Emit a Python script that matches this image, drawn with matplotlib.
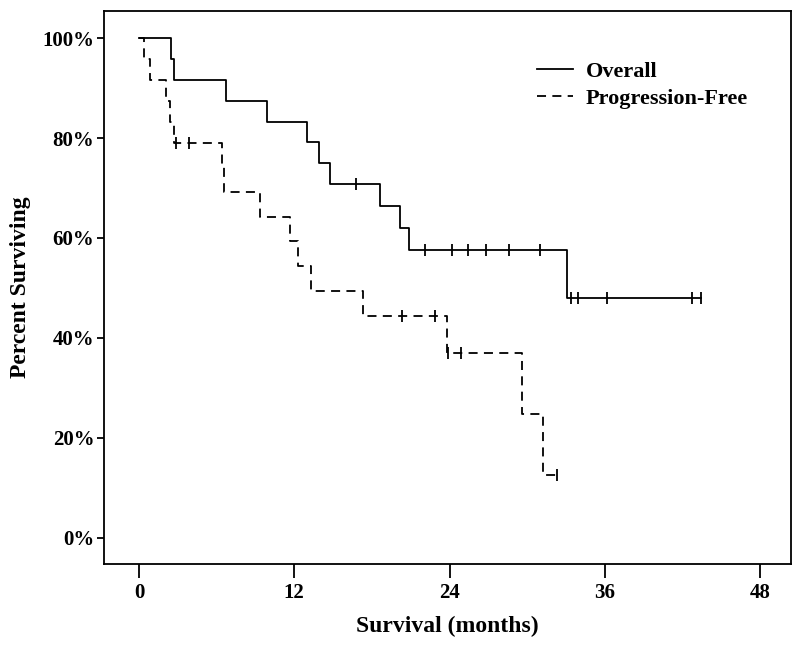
import matplotlib
matplotlib.use("Agg")
import matplotlib.pyplot as plt
import numpy as np

plt.rcParams['font.family'] = ['Liberation Serif', 'DejaVu Serif']
plt.rcParams['font.weight'] = 'bold'

# Kaplan-Meier steps (months, percent surviving)
os_times = [0, 2.45, 2.7, 6.7, 9.9, 13.0, 13.9, 14.8, 18.6, 20.2, 20.9, 33.1]
os_surv = [100, 95.8, 91.7, 87.5, 83.3, 79.2, 75.0, 70.8, 66.4, 62.0, 57.6, 48.0]
os_end = 43.4
os_censor = [16.8, 22.1, 24.2, 25.4, 26.8, 28.6, 31.0, 33.4, 33.95, 36.2, 42.7, 43.4]

pfs_times = [0, 0.4, 0.85, 2.06, 2.4, 2.7, 6.4, 6.6, 9.35, 11.7, 12.3, 13.3,
             17.3, 23.8, 29.6, 31.2]
pfs_surv = [100, 95.8, 91.7, 87.5, 83.3, 79.0, 74.3, 69.1, 64.1, 59.3, 54.3,
            49.4, 44.4, 36.9, 24.7, 12.6]
pfs_end = 32.3
pfs_censor = [2.9, 3.9, 20.3, 22.9, 23.9, 24.9, 32.3]

xticks = [0, 12, 24, 36, 48]
yticks = [0, 20, 40, 60, 80, 100]


def km_line(ax, times, surv, end, censor, ls, label):
    t = list(times) + [end]
    s = list(surv) + [surv[-1]]
    ax.step(t, s, where='post', color='black', lw=1.3, ls=ls, label=label)
    # censor marks sit on the curve value at that time
    cs = [surv[np.searchsorted(times, c, side='right') - 1] for c in censor]
    ax.plot(censor, cs, ls='none', marker='|', color='black', ms=8, mew=1.3)


fig = plt.figure(figsize=(8, 6.5), dpi=100)
ax = fig.add_axes([0.13, 0.1323, 0.859, 0.8512])

km_line(ax, os_times, os_surv, os_end, os_censor, '-', 'Overall')
km_line(ax, pfs_times, pfs_surv, pfs_end, pfs_censor, (0, (5, 3.5)), 'Progression-Free')

ax.set_xlim(-2.7, 50.4)
ax.set_ylim(-5.3, 105.5)
ax.set_xticks(xticks)
ax.set_xticklabels([str(v) for v in xticks], fontsize=15, fontweight='bold')
ax.set_yticks(yticks)
ax.set_yticklabels([f"{v}%" for v in yticks], fontsize=15, fontweight='bold')
ax.tick_params(axis='x', length=10, width=1.3, pad=4)
ax.tick_params(axis='y', length=5, width=1.3, pad=2)
for sp in ax.spines.values():
    sp.set_linewidth(1.3)

ax.set_xlabel("Survival (months)", fontsize=17, fontweight='bold', labelpad=9)
ax.set_ylabel("Percent Surviving", fontsize=17, fontweight='bold', labelpad=8)

leg = ax.legend(loc='upper right', bbox_to_anchor=(0.966, 0.945), frameon=False,
                prop={'size': 16, 'weight': 'bold'}, handlelength=1.65,
                handletextpad=0.55, labelspacing=0.3)

fig.savefig("out.png", dpi=100)
